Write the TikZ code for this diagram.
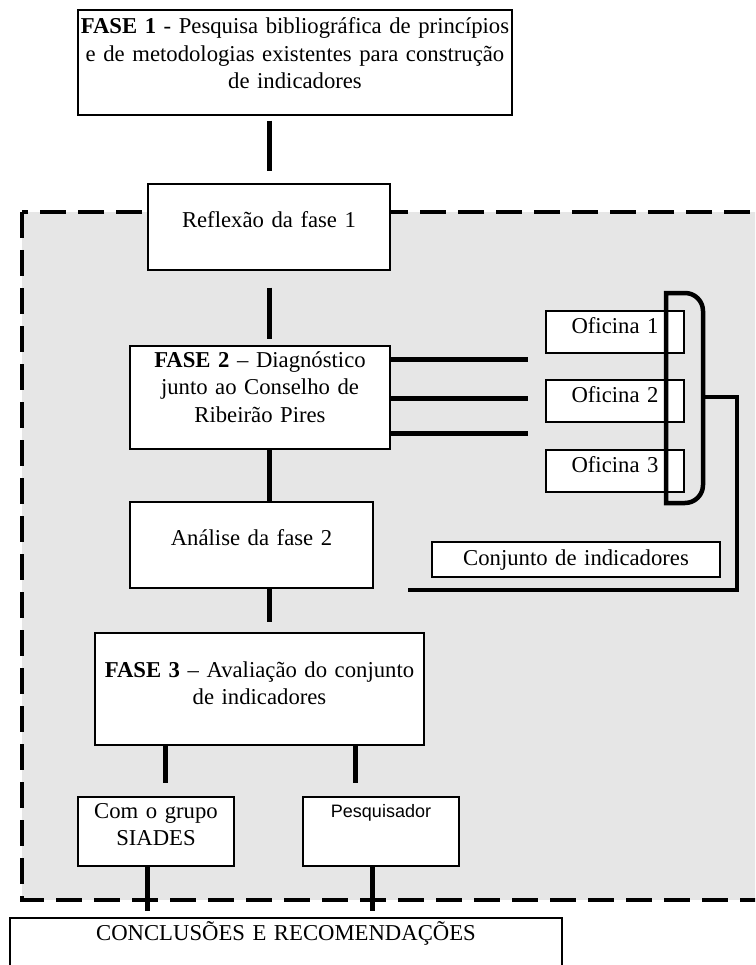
\documentclass[tikz,border=0pt]{standalone}
\usepackage{fontspec}
\setmainfont{Liberation Serif}
\newfontfamily\arialfont{Liberation Sans}

\definecolor{panelgray}{RGB}{230,230,230}
\newcommand{\boxfont}{\fontsize{22.7}{27.5}\selectfont}

\begin{document}
\begin{tikzpicture}[x=1pt, y=-1pt,
box/.style={draw=black, line width=1.4pt, fill=white, inner sep=0pt, anchor=base, align=center, font=\boxfont},
link/.style={line width=5pt},
region/.style={draw=black, fill=panelgray, line width=3.5pt, dash pattern=on 26pt off 12pt}
]
\clip (0,0) rectangle (755,965);
\draw[region] (22,212) rectangle (800,900);

% main column
\node[box, text width=434, text height=24, text depth=81] (fase1) at (295,34) {\textbf{FASE 1} - Pesquisa bibliográfica de princípios\\ e de metodologias existentes para construção\\ de indicadores};
\node[box, text width=242, text height=44, text depth=42] (reflex) at (269,228) {Reflexão da fase 1};
\node[box, text width=260, text height=21, text depth=82] (fase2) at (260,367) {\textbf{FASE 2} – Diagnóstico\\ junto ao Conselho de\\ Ribeirão Pires};
\node[box, text width=243, text height=43, text depth=43] (analise) at (251.5,545) {Análise da fase 2};
\node[box, text width=329, text height=44, text depth=68] (fase3) at (259.5,677) {\textbf{FASE 3} – Avaliação do conjunto\\ de indicadores};
\node[box, text width=156, text height=21, text depth=48] (siades) at (156,818) {Com o grupo\\ SIADES};
\node[box, text width=156, text height=20, text depth=49, font=\arialfont\fontsize{18}{22}\selectfont] (pesq) at (381,817) {Pesquisador};
\node[box, text width=552, text height=22, text depth=60] (concl) at (286,940) {CONCLUSÕES E RECOMENDAÇÕES};

% oficinas
\node[box, text width=138, text height=22, text depth=20] (ofic1) at (615,333) {Oficina 1};
\node[box, text width=138, text height=22, text depth=20] (ofic2) at (615,402) {Oficina 2};
\node[box, text width=138, text height=22, text depth=20] (ofic3) at (615,472) {Oficina 3};
\node[box, text width=288, text height=23, text depth=12] (conj) at (576,565) {Conjunto de indicadores};

\coordinate (w1) at (528,359);
\coordinate (w2) at (528,398);
\coordinate (w3) at (528,433);
\coordinate (brk) at (703,397);
\coordinate (conjend) at (408,590);
\coordinate (s1) at ([xshift=9pt]siades.north);
\coordinate (p1) at ([xshift=-26pt]pesq.north);
\coordinate (s2) at ([xshift=-9pt]siades.south);
\coordinate (p2) at ([xshift=-9pt]pesq.south);

\draw[link, shorten <=5pt, shorten >=12pt] (fase1.south -| reflex.north) -- (reflex.north);
\draw[link, shorten <=17pt, shorten >=6pt] (reflex.south) -- (reflex.south |- fase2.north);
\draw[link] (fase2.south -| reflex.south) -- (analise.north -| reflex.south);
\draw[link, shorten >=10pt] (analise.south -| reflex.south) -- (fase3.north -| reflex.south);
\draw[link, shorten >=13pt] (s1 |- fase3.south) -- (s1);
\draw[link, shorten >=13pt] (p1 |- fase3.south) -- (p1);
\draw[link, shorten >=6pt] (s2) -- (s2 |- concl.north);
\draw[link, shorten >=6pt] (p2) -- (p2 |- concl.north);

\draw[link] (w1 -| fase2.east) -- (w1);
\draw[link] (w2 -| fase2.east) -- (w2);
\draw[link] (w3 -| fase2.east) -- (w3);

% bracket round the oficinas
\draw[link, line width=4.5pt] (666,293) -- (685,293) arc[start angle=-90, end angle=0, radius=18] -- (703,485) arc[start angle=0, end angle=90, radius=18] -- (666,503) -- cycle;
\draw[link, line width=4.5pt] (brk) -- (737,397) |- (conjend);
\end{tikzpicture}
\end{document}
